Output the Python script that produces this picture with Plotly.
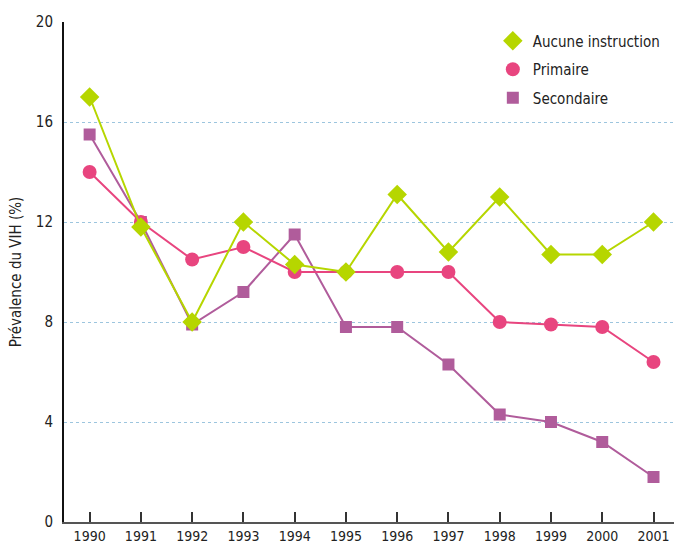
import plotly.graph_objects as go

years = list(range(1990, 2002))
aucune = [17, 11.8, 8, 12, 10.3, 10, 13.1, 10.8, 13, 10.7, 10.7, 12]
primaire = [14, 12, 10.5, 11, 10, 10, 10, 10, 8, 7.9, 7.8, 6.4]
secondaire = [15.5, 12, 7.9, 9.2, 11.5, 7.8, 7.8, 6.3, 4.3, 4.0, 3.2, 1.8]
y_ticks = [0, 4, 8, 12, 16, 20]

FONT = "DejaVu Sans Condensed, Liberation Sans Narrow, Roboto, sans-serif"

series = [
    ("Secondaire", secondaire, "#b05c9b", "square", 12),
    ("Primaire", primaire, "#e8457f", "circle", 14),
    ("Aucune instruction", aucune, "#b6d600", "diamond", 15),
]

fig = go.Figure()
for name, vals, col, sym, sz in series:
    fig.add_trace(go.Scatter(x=years, y=vals, name=name, mode="lines+markers",
                             showlegend=False,
                             line=dict(color=col, width=2),
                             marker=dict(symbol=sym, size=sz, color=col)))
for i, (name, vals, col, sym, sz) in enumerate(reversed(series)):
    fig.add_trace(go.Scatter(x=[None], y=[None], name=name, mode="markers",
                             legendgroup="g%d" % i, showlegend=True,
                             marker=dict(symbol=sym, size=sz, color=col)))

fig.update_layout(
    width=674, height=549,
    margin=dict(l=64, r=0, t=22, b=27),
    plot_bgcolor="white", paper_bgcolor="white",
    font=dict(family=FONT, size=14, color="#222222"),
    showlegend=True,
    legend=dict(x=0.703, y=0.995, xanchor="left", yanchor="top", traceorder="grouped",
                font=dict(size=15), bgcolor="rgba(0,0,0,0)", itemsizing="trace",
                tracegroupgap=6, itemwidth=30),
    xaxis=dict(range=[1989.5, 2001.4], tickmode="array", tickvals=years,
               ticktext=[str(y) for y in years], ticks="inside", ticklen=10,
               tickcolor="#333333", tickwidth=1.5, showgrid=False, showline=True,
               linecolor="#555555", linewidth=2, zeroline=False, tickfont=dict(size=14)),
    yaxis=dict(range=[0, 20], tickmode="array", tickvals=y_ticks, showgrid=True,
               gridcolor="#9cc5de", griddash="dot", gridwidth=1, showline=True,
               linecolor="#111111", linewidth=2, zeroline=False, ticks="",
               ticklabelstandoff=6,
               title=dict(text="Prévalence du VIH (%)", font=dict(size=15), standoff=11),
               tickfont=dict(size=15)),
)

fig.write_html("out.html", config={"displayModeBar": False},
               post_script="document.body.style.margin='0';")
